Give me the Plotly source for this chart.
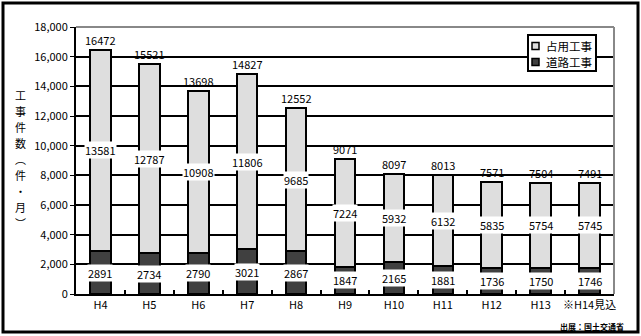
import plotly.graph_objects as go

categories = ["H4", "H5", "H6", "H7", "H8", "H9", "H10", "H11", "H12", "H13", "※H14見込"]
road_works = [2891, 2734, 2790, 3021, 2867, 1847, 2165, 1881, 1736, 1750, 1746]
occupancy_works = [13581, 12787, 10908, 11806, 9685, 7224, 5932, 6132, 5835, 5754, 5745]
totals = [r + o for r, o in zip(road_works, occupancy_works)]
y_ticks = [0, 2000, 4000, 6000, 8000, 10000, 12000, 14000, 16000, 18000]
series_names = ["占用工事", "道路工事"]
series_colors = ["#dedede", "#404040"]
y_title_chars = ["工", "事", "件", "数", "︵", "件", "・", "月", "︶"]

W, H = 641, 336
L, R, T, B = 76, 614, 27, 294
FONT = "Noto Sans CJK JP, Noto Sans, sans-serif"


def px(x):
    return (x - L) / (R - L)


def py(y):
    return (B - y) / (B - T)


fig = go.Figure()
fig.add_trace(go.Bar(
    x=categories, y=road_works, name=series_names[1],
    marker=dict(color=series_colors[1], line=dict(color="black", width=2)),
    width=0.42, showlegend=False,
))
fig.add_trace(go.Bar(
    x=categories, y=occupancy_works, name=series_names[0],
    marker=dict(color=series_colors[0], line=dict(color="black", width=2)),
    width=0.42, showlegend=False,
))

annotations = []
for c, r, o, t in zip(categories, road_works, occupancy_works, totals):
    annotations.append(dict(x=c, y=r / 2, text=str(r), showarrow=False,
                            bgcolor="white", font=dict(size=11, color="black", family=FONT),
                            borderpad=0))
    annotations.append(dict(x=c, y=r + o / 2, text=str(o), showarrow=False,
                            bgcolor="white", font=dict(size=11, color="black", family=FONT),
                            borderpad=0))
    annotations.append(dict(x=c, y=t, text=str(t), showarrow=False, yanchor="bottom",
                            yshift=0, font=dict(size=11, color="black", family=FONT)))

# vertical y-axis title, one character per line
title_y0, title_step = 95, 16
for i, ch in enumerate(y_title_chars):
    annotations.append(dict(
        xref="paper", yref="paper", x=px(20), y=py(title_y0 + i * title_step), text=ch,
        showarrow=False, font=dict(size=11, color="black", family=FONT),
        xanchor="center", yanchor="middle", borderpad=0,
    ))

annotations.append(dict(
    xref="paper", yref="paper", x=px(626), y=py(326),
    text="<b>出展：国土交通省</b>", showarrow=False,
    font=dict(size=8, color="black", family=FONT),
    xanchor="right", yanchor="middle",
))

shapes = [
    dict(type="rect", xref="paper", yref="paper",
         x0=px(3), x1=px(638), y0=py(332), y1=py(3),
         line=dict(color="black", width=3), layer="below"),
    dict(type="line", xref="paper", yref="paper", x0=0, x1=1, y0=1, y1=1,
         line=dict(color="#888888", width=2), layer="above"),
    dict(type="line", xref="paper", yref="paper", x0=1, x1=1, y0=0, y1=1,
         line=dict(color="#888888", width=2), layer="above"),
    # legend box
    dict(type="rect", xref="paper", yref="paper",
         x0=px(528), x1=px(596), y0=py(71), y1=py(35),
         line=dict(color="black", width=2), fillcolor="white", layer="above"),
]
legend_rows = [46, 62]
for name, col, yy in zip(series_names, series_colors, legend_rows):
    shapes.append(dict(type="rect", xref="paper", yref="paper",
                       x0=px(532), x1=px(539), y0=py(yy + 3.5), y1=py(yy - 3.5),
                       line=dict(color="black", width=1.5), fillcolor=col, layer="above"))
    annotations.append(dict(xref="paper", yref="paper", x=px(545), y=py(yy), text=name,
                            showarrow=False, xanchor="left", yanchor="middle", borderpad=0,
                            font=dict(size=11.5, color="black", family=FONT)))

fig.update_layout(
    width=W, height=H,
    margin=dict(l=L, r=W - R, t=T, b=H - B),
    barmode="stack",
    paper_bgcolor="white", plot_bgcolor="white",
    font=dict(family=FONT, color="black", size=11),
    showlegend=False,
    annotations=annotations,
    shapes=shapes,
    xaxis=dict(
        type="category", showline=True, linecolor="black", linewidth=2,
        ticks="inside", tickson="boundaries", ticklen=4, tickcolor="black", tickwidth=1.5,
        tickfont=dict(size=11, family=FONT), showgrid=False, tickangle=0,
    ),
    yaxis=dict(
        range=[0, 18000], tickvals=y_ticks, tickformat=",d",
        showline=True, linecolor="black", linewidth=2,
        ticks="outside", ticklen=4, tickcolor="black",
        showgrid=True, gridcolor="black", gridwidth=2, zeroline=False,
        tickfont=dict(size=11, family=FONT),
    ),
)

fig.write_html("out.html")
